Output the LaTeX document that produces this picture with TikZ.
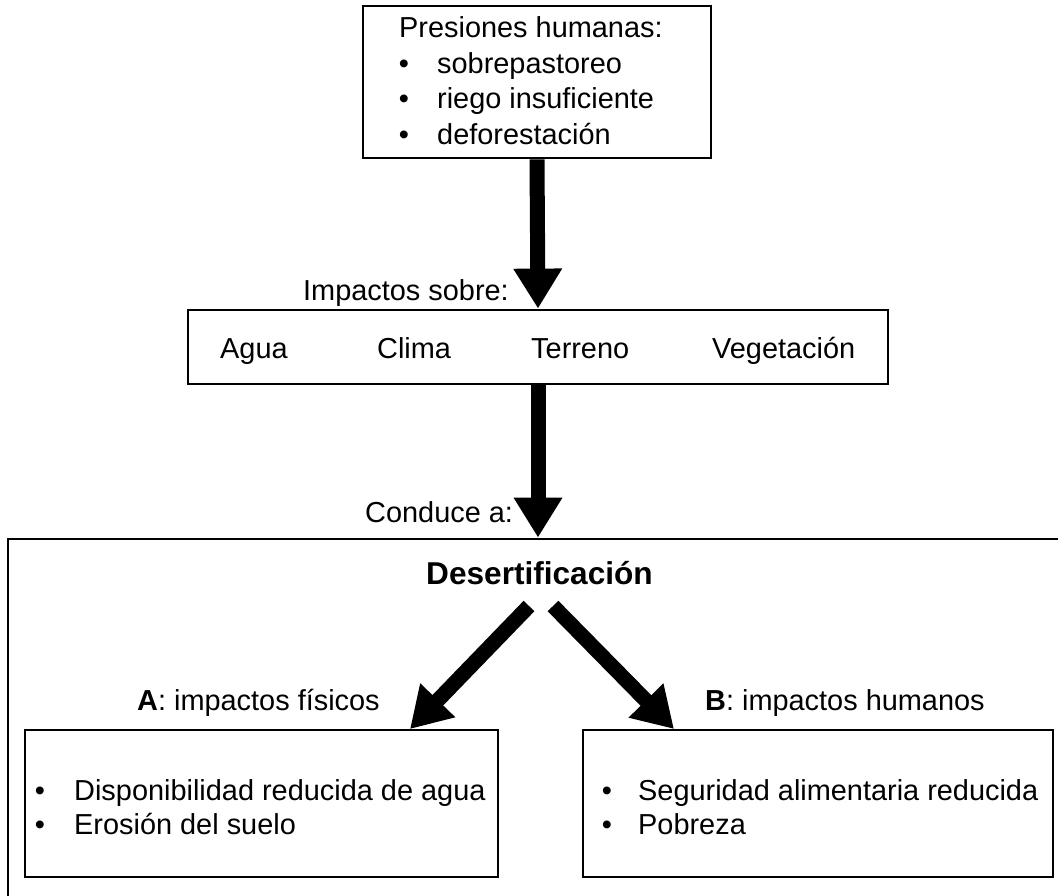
\documentclass[tikz,border=0pt]{standalone}
\usepackage{fontspec}
\setmainfont{Liberation Sans}
\usetikzlibrary{arrows.meta}
\begin{document}
\begin{tikzpicture}[x=1pt,y=-1pt,
  box/.style={draw,line width=2.8pt,inner sep=0pt,rectangle},
  txt/.style={anchor=base west,inner sep=0pt,font=\fontsize{28.9}{34}\selectfont},
  bul/.style={anchor=base,inner sep=0pt,font=\fontsize{28.9}{34}\selectfont},
  bigarrow/.style={line width=15pt,-{Triangle[length=40pt,width=46pt]}},
]
\useasboundingbox (0,0) rectangle (1058,895);
\clip (0,0) rectangle (1058,895);

% boxes
\node[box,minimum width=348pt,minimum height=152pt] (top) at (537,82) {};
\node[box,minimum width=700pt,minimum height=74pt] (mid) at (538,347) {};
\node[box,minimum width=1062pt,minimum height=371pt] (big) at (539,724.5) {};
\node[box,minimum width=473pt,minimum height=147pt] (lbox) at (261.5,803.5) {};
\node[box,minimum width=470pt,minimum height=147pt] (rbox) at (818,803.5) {};

% top box text
\node[txt] (t0) at (399,37) {Presiones humanas:};
\node[bul] (b1) at (404,73) {•};
\node[txt] (t1) at (437,73) {sobrepastoreo};
\node[bul] (b2) at (404,108.5) {•};
\node[txt] (t2) at (437,108.5) {riego insuficiente};
\node[bul] (b3) at (404,144) {•};
\node[txt] (t3) at (437,144) {deforestación};

% labels
\node[txt] (imp) at (303,300) {Impactos sobre:};
\node[txt] (con) at (365,522) {Conduce a:};

% middle box text
\node[txt] (agua) at (220,358) {Agua};
\node[txt] (clima) at (377,358) {Clima};
\node[txt] (terr) at (531,358) {Terreno};
\node[txt] (veg) at (712,358) {Vegetación};

% desertification
\node[anchor=base,inner sep=0pt,font=\fontsize{31.6}{36}\selectfont\bfseries] (des) at (539.5,584) {Desertificación};
\node[txt] (la) at (137,710) {\textbf{A}: impactos físicos};
\node[txt] (lb) at (705,710) {\textbf{B}: impactos humanos};

% left box text
\node[bul] (lb1) at (40,800) {•};
\node[txt] (lt1) at (74,800) {Disponibilidad reducida de agua};
\node[bul] (lb2) at (40,834) {•};
\node[txt] (lt2) at (74,834) {Erosión del suelo};

% right box text
\node[bul] (rb1) at (607,800) {•};
\node[txt] (rt1) at (638,800) {Seguridad alimentaria reducida};
\node[bul] (rb2) at (607,834) {•};
\node[txt] (rt2) at (638,834) {Pobreza};

% arrows
\draw[bigarrow] (top.south) -- (mid.north);
\draw[bigarrow] (mid.south) -- (mid.south |- big.north);
\coordinate (ls) at (529,606);
\coordinate (lt) at (410,729);
\coordinate (rs) at (553,606);
\coordinate (rt) at (674,729);
\draw[bigarrow] (ls) -- (lt);
\draw[bigarrow] (rs) -- (rt);
\end{tikzpicture}
\end{document}
